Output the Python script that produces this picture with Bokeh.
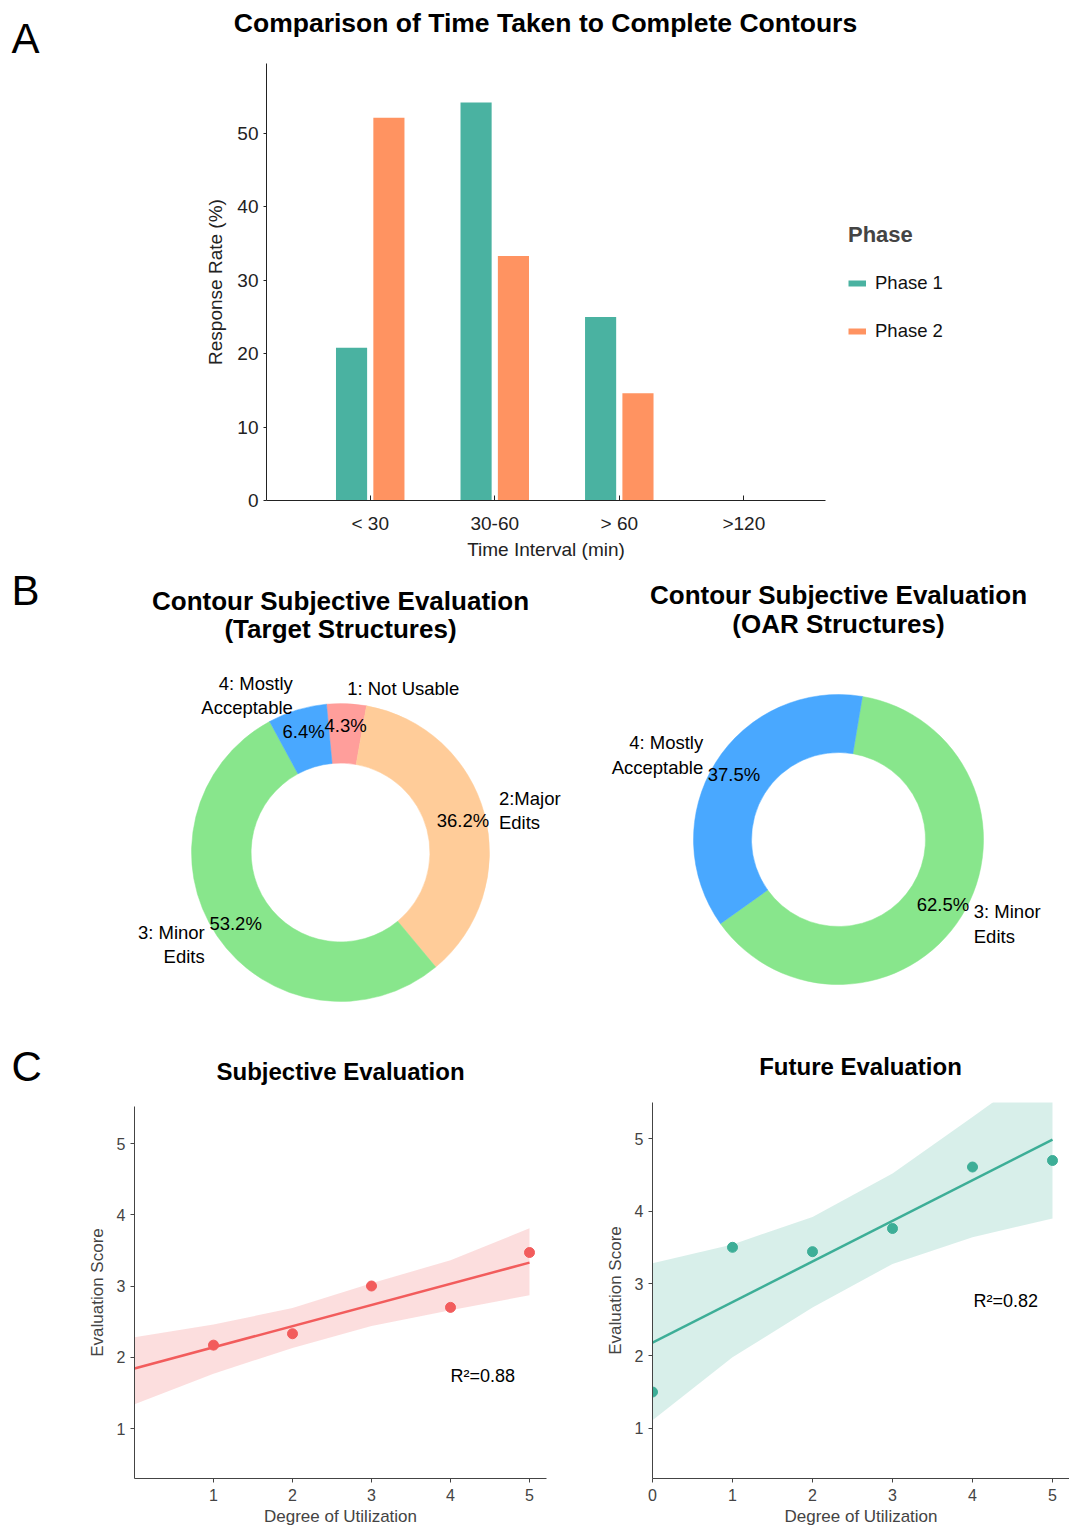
import numpy as np
from bokeh.plotting import figure
from bokeh.layouts import column, row
from bokeh.models import Range1d, Label, Legend, LegendItem, ColumnDataSource, FixedTicker
from bokeh.core.properties import value
from bokeh.embed import file_html
from bokeh.resources import INLINE

FONT = "Liberation Sans"

# ---------------- data ----------------
time_intervals = ["< 30", "30-60", "> 60", ">120"]
phase1_rate = [20.8, 54.2, 25.0, 0.0]
phase2_rate = [52.1, 33.3, 14.6, 0.0]

target_categories = ["1: Not Usable", "2:Major\nEdits", "3: Minor\nEdits", "4: Mostly\nAcceptable"]
target_percent = [4.3, 36.2, 53.2, 6.4]
oar_categories = ["3: Minor\nEdits", "4: Mostly\nAcceptable"]
oar_percent = [62.5, 37.5]

subj_utilization = [1, 2, 3, 4, 5]
subj_score = [2.17, 2.33, 3.00, 2.70, 3.47]
subj_band_x = [0, 1, 2, 3, 4, 5]
subj_band_lower = [1.34, 1.77, 2.13, 2.44, 2.66, 2.87]
subj_band_upper = [2.28, 2.46, 2.69, 3.04, 3.36, 3.81]
subj_r2 = 0.88

future_utilization = [0, 1, 2, 3, 4, 5]
future_score = [1.50, 3.50, 3.44, 3.76, 4.61, 4.70]
future_band_x = [0, 1, 2, 3, 4, 5]
future_band_lower = [1.11, 1.98, 2.67, 3.27, 3.64, 3.90]
future_band_upper = [3.28, 3.54, 3.92, 4.52, 5.30, 6.10]
future_r2 = 0.82

# ---------------- styles ----------------
TEAL = "#4AB2A1"
ORANGE = "#FF9361"
CAT_COLORS = {"1": "#FF9E9B", "2": "#FFCC99", "3": "#88E68C", "4": "#49A8FF"}
RED = "#F25C5C"
GREEN = "#3DAE97"

W = 1069
H = 1529


def no_align(p):
    if "frame_align" in p.properties():
        p.frame_align = False
    return p


def style_axis(ax, tick_px, label_px, color):
    ax.major_label_text_font = FONT
    ax.major_label_text_font_size = f"{tick_px}px"
    ax.major_label_text_color = color
    ax.axis_label_text_font = FONT
    ax.axis_label_text_font_size = f"{label_px}px"
    ax.axis_label_text_font_style = "normal"
    ax.axis_label_text_color = color
    ax.axis_line_color = color
    ax.major_tick_line_color = color
    ax.minor_tick_line_color = None


def add_label(p, x, y, text, size, bold=False, align="center", baseline="middle", color="black"):
    p.add_layout(Label(x=x, y=y, text=text, text_font=FONT, text_font_size=f"{size}px",
                       text_font_style="bold" if bold else "normal", text_align=align,
                       text_baseline=baseline, text_color=color))


def header(width, top, bottom, left=0):
    # a text-only strip whose data coordinates are page pixels (y downward)
    p = figure(width=width, height=bottom - top, x_range=Range1d(left, left + width),
               y_range=Range1d(bottom, top), x_axis_type=None, y_axis_type=None, min_border=0,
               output_backend="svg", toolbar_location=None, title=None)
    p.outline_line_color = None
    p.grid.visible = False
    return no_align(p)


# ---------------- Panel A ----------------
hA = header(W, 0, 63)
add_label(hA, 11, 38, "A", 42, align="left")
add_label(hA, 545, 22, "Comparison of Time Taken to Complete Contours", 26.5, bold=True)

A_TOP, A_BOT, A_LABEL_BOT = 63, 537, 563
A_LEFT, A_AXIS_END = 266, 825
xA0, xA_axis_end = -0.833, 3.656
px_per_cat = (A_AXIS_END - A_LEFT) / (xA_axis_end - xA0)
xA1 = xA0 + (W - A_LEFT) / px_per_cat   # frame runs on to hold the legend
pA = figure(width=W, height=A_BOT - A_TOP, x_range=Range1d(xA0, xA1), y_range=Range1d(0, 59.5),
            min_border_left=A_LEFT, min_border_right=0, min_border_top=0,
            min_border_bottom=A_BOT - 500,
            output_backend="svg", toolbar_location=None, title=None)
no_align(pA)
pA.outline_line_color = None
pA.grid.visible = False

idx = np.arange(len(time_intervals))
srcA = ColumnDataSource(dict(x1=idx - 0.15, x2=idx + 0.15, p1=phase1_rate, p2=phase2_rate))
pA.vbar(x="x1", top="p1", bottom=0, width=0.25, source=srcA, fill_color=TEAL, line_color=None)
pA.vbar(x="x2", top="p2", bottom=0, width=0.25, source=srcA, fill_color=ORANGE, line_color=None)

xa = pA.xaxis[0]
xa.bounds = (xA0, xA_axis_end)
xa.ticker = FixedTicker(ticks=[float(i) for i in idx])
xa.major_label_overrides = {int(i): t for i, t in enumerate(time_intervals)}
style_axis(xa, 19, 19, "#222222")
xa.major_tick_in = 5
xa.major_tick_out = 0
xa.major_label_standoff = 12

ya = pA.yaxis[0]
ya.ticker = FixedTicker(ticks=[0, 10, 20, 30, 40, 50])
ya.axis_label = "Response Rate (%)"
style_axis(ya, 19, 19, "#222222")
ya.major_tick_in = 0
ya.major_tick_out = 3
ya.major_label_standoff = 5
ya.axis_label_standoff = 8

# legend swatches (proxies styled like the bars, holding no visible point)
r1 = pA.line(x=[np.nan], y=[np.nan], line_color=TEAL, line_width=6)
r2 = pA.line(x=[np.nan], y=[np.nan], line_color=ORANGE, line_width=6)
legA = Legend(items=[LegendItem(label="Phase 1", renderers=[r1]),
                     LegendItem(label="Phase 2", renderers=[r2])],
              location=(848 - A_LEFT, 158), title="Phase",
              title_text_font=FONT, title_text_font_size="22px", title_text_font_style="bold",
              title_standoff=24,
              label_text_font=FONT, label_text_font_size="18.5px", label_text_color="#111111",
              glyph_width=18, glyph_height=22, label_height=22, spacing=26, label_standoff=9,
              padding=0, margin=0, border_line_color=None, background_fill_alpha=0)
pA.add_layout(legA)

# x-axis title centred under the visible axis line
hAx = header(W, A_BOT, A_LABEL_BOT)
add_label(hAx, (A_LEFT + A_AXIS_END) / 2, 549, "Time Interval (min)", 19, color="#222222")

# ---------------- Panel B ----------------
B_TOP, B_BOT = A_LABEL_BOT, 1040
B_H = B_BOT - B_TOP


def donut(cats, pcts, start_deg, width, left_ref, cx_ref, cy_ref, R, title1, title2, t1y, t2y,
          letter=None):
    cx = cx_ref - left_ref
    cy = cy_ref - B_TOP
    p = figure(width=width, height=B_H,
               x_range=Range1d(-cx / R, (width - cx) / R),
               y_range=Range1d(-(B_H - cy) / R, cy / R),
               x_axis_type=None, y_axis_type=None, min_border=0,
               output_backend="svg", toolbar_location=None, title=None)
    no_align(p)
    p.outline_line_color = None
    p.grid.visible = False

    vals = np.array(pcts, dtype=float)
    spans = vals / vals.sum() * 2 * np.pi
    starts = np.deg2rad(start_deg) - np.concatenate([[0.0], np.cumsum(spans)[:-1]])
    ends = starts - spans
    mids = starts - spans / 2
    colors = [CAT_COLORS[c[0]] for c in cats]
    src = ColumnDataSource(dict(s=starts, e=ends, c=colors))
    p.annular_wedge(x=0, y=0, inner_radius=0.6, outer_radius=1.0, start_angle="s", end_angle="e",
                    direction="clock", fill_color="c", line_color="c", line_width=0.5, source=src)

    pct_src = ColumnDataSource(dict(x=0.85 * np.cos(mids), y=0.85 * np.sin(mids),
                                    t=[f"{v:.1f}%" for v in vals]))
    p.text(x="x", y="y", text="t", source=pct_src, text_align="center", text_baseline="middle",
           text_font=value(FONT), text_font_size=value("18.5px"), text_color="black")

    lx = 1.1 * np.cos(mids)
    ly = 1.1 * np.sin(mids)
    right_side = np.cos(mids) >= 0
    for side, align in ((right_side, "left"), (~right_side, "right")):
        s = ColumnDataSource(dict(x=lx[side], y=ly[side], t=[c for c, k in zip(cats, side) if k]))
        p.text(x="x", y="y", text="t", source=s, text_align=align, text_baseline="middle",
               text_font=value(FONT), text_font_size=value("18.5px"), text_color="black",
               text_line_height=1.15)

    add_label(p, 0, (cy_ref - t1y) / R, title1, 26, bold=True)
    add_label(p, 0, (cy_ref - t2y) / R, title2, 26, bold=True)
    if letter:
        add_label(p, (11 - cx_ref) / R, (cy_ref - 590) / R, letter, 42, align="left")
    return p


pB1 = donut(target_categories, target_percent, 95.4, 590, 0, 340, 852, 149,
            "Contour Subjective Evaluation", "(Target Structures)", 600, 628, letter="B")
pB2 = donut(oar_categories, oar_percent, 80.5, W - 590, 590, 838, 839, 145,
            "Contour Subjective Evaluation", "(OAR Structures)", 594, 623)

# ---------------- Panel C ----------------
C_HEAD_TOP, C_TOP = B_BOT, 1095
hC1 = header(590, C_HEAD_TOP, C_TOP, 0)
add_label(hC1, 11, 1066, "C", 42, align="left")
add_label(hC1, 340, 1071, "Subjective Evaluation", 24, bold=True)
hC2 = header(W - 590, C_HEAD_TOP, C_TOP, 590)
add_label(hC2, 860, 1066, "Future Evaluation", 24, bold=True)

C_H = H - C_TOP
FRAME_BOTTOM = 1478


def scatter_panel(width, fig_left_ref, frame_left_ref, frame_right_ref, frame_top_ref,
                  x_px_per_unit, y_one_ref, y_px_per_unit, xs, ys, bx, blo, bhi, color, r2,
                  r2_pos_ref, xticks):
    x0 = 0.0
    x1 = (frame_right_ref - frame_left_ref) / x_px_per_unit
    y0 = 1 - (FRAME_BOTTOM - y_one_ref) / y_px_per_unit
    y1 = 1 + (y_one_ref - frame_top_ref) / y_px_per_unit
    p = figure(width=width, height=C_H, x_range=Range1d(x0, x1), y_range=Range1d(y0, y1),
               min_border_left=frame_left_ref - fig_left_ref,
               min_border_right=width - (frame_right_ref - fig_left_ref),
               min_border_top=frame_top_ref - C_TOP, min_border_bottom=H - FRAME_BOTTOM,
               output_backend="svg", toolbar_location=None, title=None)
    no_align(p)
    p.outline_line_color = None
    p.grid.visible = False

    p.varea(x=bx, y1=blo, y2=bhi, fill_color=color, fill_alpha=0.2)
    k, b = np.polyfit(xs, ys, 1)
    fx = np.array([min(bx), max(bx)], dtype=float)
    p.line(x=fx, y=k * fx + b, line_color=color, line_width=2.5)
    p.scatter(x=xs, y=ys, size=10, fill_color=color, line_color=color)

    xa = p.xaxis[0]
    xa.ticker = FixedTicker(ticks=xticks)
    xa.axis_label = "Degree of Utilization"
    style_axis(xa, 16, 17, "#444444")
    xa.major_tick_in = 0
    xa.major_tick_out = 4
    xa.major_label_standoff = 6
    xa.axis_label_standoff = 3

    ya = p.yaxis[0]
    ya.ticker = FixedTicker(ticks=[1, 2, 3, 4, 5])
    ya.axis_label = "Evaluation Score"
    style_axis(ya, 16, 17, "#444444")
    ya.major_tick_in = 0
    ya.major_tick_out = 4
    ya.major_label_standoff = 5
    ya.axis_label_standoff = 7

    rx = (r2_pos_ref[0] - frame_left_ref) / x_px_per_unit
    ry = 1 + (y_one_ref - r2_pos_ref[1]) / y_px_per_unit
    add_label(p, rx, ry, f"R²={r2:.2f}", 18, align="left")
    return p


pC1 = scatter_panel(590, 0, 134, 546, 1106, 79.0, 1428, 71.25,
                    subj_utilization, subj_score, subj_band_x, subj_band_lower, subj_band_upper,
                    RED, subj_r2, (450, 1375), [1, 2, 3, 4, 5])
pC2 = scatter_panel(W - 590, 590, 652, W, 1102, 80.0, 1427.7, 72.35,
                    future_utilization, future_score, future_band_x, future_band_lower,
                    future_band_upper, GREEN, future_r2, (973, 1300), [0, 1, 2, 3, 4, 5])

layout = column(hA, pA, hAx, row(pB1, pB2), row(hC1, hC2), row(pC1, pC2))
open("out.html", "w").write(file_html(layout, INLINE))
